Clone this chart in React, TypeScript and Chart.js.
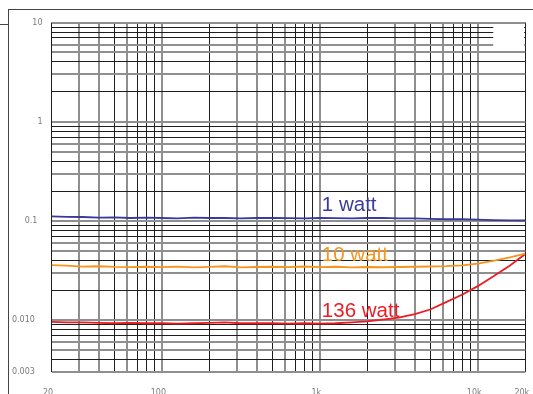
import { useEffect, useRef } from "react";
import { Chart, registerables } from "chart.js";

Chart.register(...registerables);

const frequencies = [20, 25, 31.5, 40, 50, 63, 80, 100, 125, 160, 200, 250, 315, 400, 500, 630, 800, 1000, 1250, 1600, 2000, 2500, 3150, 4000, 5000, 6300, 8000, 10000, 12500, 16000, 20000];

const watt1 = [0.111, 0.110, 0.1095, 0.108, 0.1085, 0.107, 0.108, 0.107, 0.106, 0.108, 0.107, 0.107, 0.106, 0.107, 0.107, 0.1065, 0.106, 0.107, 0.1065, 0.106, 0.107, 0.1075, 0.106, 0.106, 0.105, 0.104, 0.104, 0.103, 0.102, 0.1015, 0.101];

const watt10 = [0.0358, 0.0354, 0.0346, 0.0349, 0.0344, 0.0342, 0.0345, 0.0342, 0.0346, 0.034, 0.0344, 0.0349, 0.034, 0.0343, 0.0345, 0.0342, 0.0347, 0.0342, 0.0345, 0.034, 0.0343, 0.0341, 0.0343, 0.0345, 0.0347, 0.035, 0.0357, 0.0372, 0.0395, 0.043, 0.0468];

const watt136 = [0.0096, 0.0095, 0.0095, 0.0094, 0.0093, 0.0094, 0.0093, 0.0093, 0.0092, 0.0093, 0.0094, 0.0095, 0.0093, 0.0093, 0.0093, 0.0092, 0.0093, 0.0092, 0.0093, 0.0095, 0.0097, 0.0101, 0.0106, 0.0115, 0.0128, 0.0152, 0.0181, 0.022, 0.0275, 0.0355, 0.0465];

const seriesNames = ["1 watt", "10 watt", "136 watt"];
// where each series name is written, in data coordinates (Hz, THD value at baseline)
const seriesLabelFreq = [1030, 1030, 1030];
const seriesLabelValue = [0.126, 0.0395, 0.01086];

const xGridValues = [20, 30, 40, 50, 60, 70, 80, 90, 100, 200, 300, 400, 500, 600, 700, 800, 900, 1000, 2000, 3000, 4000, 5000, 6000, 7000, 8000, 9000, 10000, 20000];
const yGridValues = [0.003, 0.004, 0.005, 0.006, 0.007, 0.008, 0.009, 0.01, 0.02, 0.03, 0.04, 0.05, 0.06, 0.07, 0.08, 0.09, 0.1, 0.2, 0.3, 0.4, 0.5, 0.6, 0.7, 0.8, 0.9, 1, 2, 3, 4, 5, 6, 7, 8, 9, 10];

const xLabelValues = [20, 100, 1000, 10000, 20000];
const xLabelTexts = ["20", "100", "1k", "10k", "20k"];
const yLabelValues = [10, 1, 0.1, 0.01, 0.003];
const yLabelTexts = ["10", "1", "0.1  ", "0.010   ", "0.003   "];

// grid lines that stop short of the right edge (top decade)
const shortLineValues = [6, 7, 8, 9];
const shortLineEndFreq = 12440;

const seriesColors = ["#3a3a9c", "#f7941d", "#ed1c24"];
const xDarkMantissas = [2, 5, 7, 8, 9];
const yDarkMantissas = [2, 4, 7, 8, 9];

function mantissa(v: number): number {
  const e = Math.floor(Math.log10(v) + 1e-9);
  return Math.round(v / Math.pow(10, e));
}

function matchLabel(values: number[], texts: string[], v: number): string {
  for (let i = 0; i < values.length; i++) {
    if (Math.abs(values[i] - v) / values[i] < 1e-6) return texts[i];
  }
  return "";
}

export default function App() {
  const canvasRef = useRef<HTMLCanvasElement | null>(null);

  useEffect(() => {
    const canvas = canvasRef.current;
    if (!canvas) return;

    const shortLinesPlugin = {
      id: "shortLines",
      beforeDatasetsDraw(chart: any) {
        const { ctx, chartArea, scales } = chart;
        const xs = scales.x;
        const ys = scales.y;
        const x1 = xs.getPixelForValue(shortLineEndFreq) + 0.5;
        const x2 = chartArea.right - 1.2;
        const top = Math.max(...shortLineValues);
        const bot = Math.min(...shortLineValues);
        const y1 = ys.getPixelForValue(top * 1.04);
        const y2 = ys.getPixelForValue(bot * 0.95);
        ctx.save();
        ctx.fillStyle = "#ffffff";
        ctx.fillRect(x1, y1, x2 - x1, y2 - y1);
        ctx.restore();
      },
    };

    const labelsPlugin = {
      id: "seriesLabels",
      afterDatasetsDraw(chart: any) {
        const { ctx, scales } = chart;
        ctx.save();
        ctx.font = '20.5px "Liberation Sans", Arial, sans-serif';
        ctx.textAlign = "left";
        ctx.textBaseline = "alphabetic";
        seriesNames.forEach((name, i) => {
          ctx.fillStyle = seriesColors[i];
          ctx.fillText(name, scales.x.getPixelForValue(seriesLabelFreq[i]), scales.y.getPixelForValue(seriesLabelValue[i]));
        });
        ctx.restore();
      },
    };

    const makeData = (vals: number[]) => frequencies.map((f, i) => ({ x: f, y: vals[i] }));

    const chart = new Chart(canvas, {
      type: "line",
      data: {
        datasets: [watt1, watt10, watt136].map((vals, i) => ({
          label: seriesNames[i],
          data: makeData(vals),
          borderColor: seriesColors[i],
          backgroundColor: seriesColors[i],
          borderWidth: 1.8,
          pointRadius: 0,
          tension: 0,
          fill: false,
        })),
      },
      options: {
        responsive: false,
        animation: false,
        events: [],
        layout: { padding: { top: 22.5, right: 7.7, left: 0, bottom: 0 } },
        plugins: { legend: { display: false }, tooltip: { enabled: false } },
        scales: {
          x: {
            type: "logarithmic",
            min: 20,
            max: 20000,
            border: { display: false },
            afterBuildTicks: (scale: any) => {
              scale.ticks = xGridValues.map((v) => ({ value: v }));
            },
            afterFit: (scale: any) => {
              scale.height = 22;
              scale.paddingLeft = 0;
              scale.paddingRight = 0;
            },
            grid: {
              drawTicks: false,
              color: (ctx: any) => (ctx.tick && xDarkMantissas.includes(mantissa(ctx.tick.value)) ? "#1e1e1e" : "#8f8f8f"),
              lineWidth: (ctx: any) => (ctx.tick && xDarkMantissas.includes(mantissa(ctx.tick.value)) ? 1 : 2),
            },
            ticks: {
              autoSkip: false,
              maxRotation: 0,
              minRotation: 0,
              padding: 16,
              labelOffset: -3.5,
              color: "#7a7a7a",
              font: { family: '"DejaVu Sans", sans-serif', size: 8 },
              callback: (v: any) => matchLabel(xLabelValues, xLabelTexts, Number(v)),
            },
          },
          y: {
            type: "logarithmic",
            min: 0.003,
            max: 10,
            border: { display: false },
            afterBuildTicks: (scale: any) => {
              scale.ticks = yGridValues.map((v) => ({ value: v }));
            },
            afterFit: (scale: any) => {
              scale.width = 51.5;
              scale.paddingTop = 0;
              scale.paddingBottom = 0;
            },
            grid: {
              drawTicks: false,
              color: (ctx: any) => (ctx.tick && yDarkMantissas.includes(mantissa(ctx.tick.value)) ? "#1e1e1e" : "#8f8f8f"),
              lineWidth: (ctx: any) => (ctx.tick && yDarkMantissas.includes(mantissa(ctx.tick.value)) ? 1 : 2),
            },
            ticks: {
              autoSkip: false,
              padding: 9,
              color: "#7a7a7a",
              font: { family: '"DejaVu Sans", sans-serif', size: 8 },
              callback: (v: any) => matchLabel(yLabelValues, yLabelTexts, Number(v)),
            },
          },
        },
      },
      plugins: [shortLinesPlugin, labelsPlugin],
    } as any);

    return () => chart.destroy();
  }, []);

  return (
    <div style={{ position: "fixed", left: 0, top: 0, width: 533, height: 394, background: "#fff", overflow: "hidden" }}>
      <canvas ref={canvasRef} width={533} height={394} style={{ display: "block", width: 533, height: 394 }} />
      <div style={{ position: "absolute", left: 8, top: 9, width: 525, height: 1, background: "#444" }} />
      <div style={{ position: "absolute", left: 8, top: 9, width: 1, height: 385, background: "#444" }} />
      <div style={{ position: "absolute", left: 0, top: 24, width: 8, height: 1, background: "#444" }} />
    </div>
  );
}
